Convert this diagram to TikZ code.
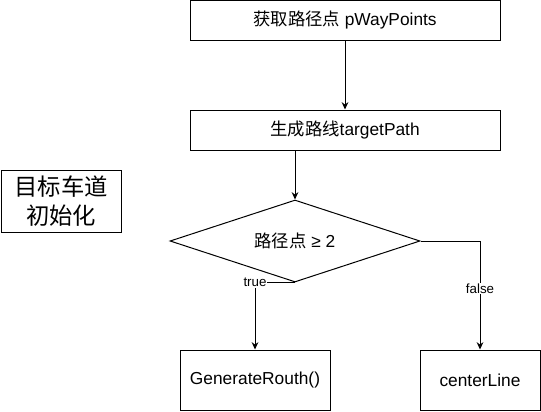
\documentclass[tikz,border=0pt]{standalone}
\usepackage{fontspec}
\setmainfont{Liberation Sans}
\newfontfamily\cjk{Noto Sans CJK SC}
\usetikzlibrary{shapes.geometric,arrows.meta}
\tikzset{blk/.style={rectangle,draw,line width=0.75pt,inner sep=0pt,font=\fontsize{13}{15.5}\selectfont},
         dec/.style={diamond,draw,line width=0.75pt,inner sep=0pt,aspect=3,font=\fontsize{13}{15.5}\selectfont},
         lbl/.style={fill=white,inner sep=0.5pt,font=\fontsize{10}{12}\selectfont}}

\begin{document}
\begin{tikzpicture}[x=0.75pt,y=-0.75pt,>={Stealth[length=5.5pt,width=5pt]},line width=0.75pt]
    \useasboundingbox (0,0) rectangle (541,411);
    \node[blk,minimum width=90pt,minimum height=46.5pt,align=center,font=\fontsize{17.5}{21.75}\selectfont] (init) at (61,201) {\cjk 目标车道\\\cjk 初始化};
    \node[blk,minimum width=232.5pt,minimum height=30pt] (pway) at (345,20.5) {{\cjk 获取路径点} pWayPoints};
    \node[blk,minimum width=232.5pt,minimum height=30pt] (path) at (345,130) {{\cjk 生成路线}targetPath};
    \node[dec,minimum width=187.5pt,minimum height=61.5pt] (cnt) at (295,241) {{\cjk 路径点} ≥ 2};
    \node[blk,minimum width=112.5pt,minimum height=45pt] (gen) at (255,380) {GenerateRouth()};
    \node[blk,minimum width=90pt,minimum height=45pt] (cln) at (480,380) {centerLine};

    \draw [->] (pway) to (path);
    \draw [->] (cnt.north |- path.south) to (cnt.north);
    \draw [->] (cnt.south) -| node[lbl]{true} (gen.north);
    \draw [->] (cnt.east) -| node[lbl,pos=0.72]{false} (cln.north);
\end{tikzpicture}
\end{document}
